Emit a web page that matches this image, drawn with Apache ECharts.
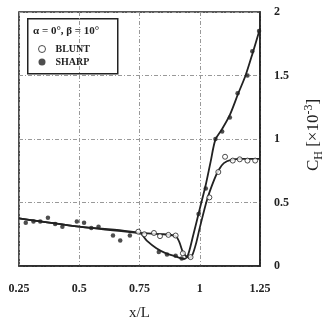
<!DOCTYPE html>
<html>
<head>
<meta charset="utf-8">
<script src="https://cdn.jsdelivr.net/npm/echarts@6/dist/echarts.min.js"></script>
<style>
html,body{margin:0;padding:0;background:#fff;}
#c{width:333px;height:326px;}
</style>
</head>
<body>
<div id="c"></div>
<script>
// x/L positions and C_H values (×10^-3)
var bluntPoints = [[0.745,0.27],[0.77,0.25],[0.81,0.26],[0.835,0.235],[0.87,0.245],[0.90,0.24],[0.93,0.10],[0.962,0.07],[1.04,0.54],[1.077,0.74],[1.105,0.86],[1.137,0.83],[1.166,0.84],[1.198,0.83],[1.23,0.83]];
var sharpPoints = [[0.278,0.34],[0.31,0.35],[0.338,0.35],[0.37,0.38],[0.40,0.33],[0.43,0.31],[0.49,0.35],[0.52,0.34],[0.55,0.30],[0.58,0.31],[0.64,0.24],[0.67,0.20],[0.71,0.24],[0.83,0.11],[0.864,0.09],[0.90,0.08],[0.925,0.06],[0.995,0.41],[1.025,0.61],[1.065,1.0],[1.093,1.06],[1.125,1.17],[1.157,1.36],[1.198,1.50],[1.218,1.69],[1.246,1.85]];
var bluntCurve = [[0.25,0.375],[0.5,0.31],[0.75,0.26],[0.8,0.255],[0.85,0.25],[0.9,0.235],[0.915,0.19],[0.93,0.11],[0.945,0.075],[0.958,0.065],[0.97,0.09],[0.985,0.18],[1.0,0.3],[1.03,0.52],[1.06,0.68],[1.08,0.76],[1.1,0.81],[1.13,0.835],[1.17,0.843],[1.25,0.843]];
var sharpCurve = [[0.25,0.375],[0.5,0.31],[0.75,0.26],[0.78,0.2],[0.82,0.14],[0.86,0.1],[0.9,0.075],[0.935,0.055],[0.95,0.08],[0.97,0.22],[1.0,0.45],[1.025,0.64],[1.045,0.82],[1.065,0.995],[1.09,1.07],[1.125,1.19],[1.16,1.36],[1.19,1.5],[1.22,1.68],[1.25,1.87]];
var xTicks = {min:0.25, max:1.25, step:0.25};
var yTicks = {min:0, max:2, step:0.5};
var legendTitle = 'α = 0°, β = 10°';
var seriesNames = ['BLUNT','SHARP'];

var serif = '"Liberation Serif","DejaVu Serif",serif';
var chart = echarts.init(document.getElementById('c'));
chart.setOption({
  animation:false,
  backgroundColor:'#fff',
  grid:{left:19,right:65,top:12,bottom:47,show:true,borderColor:'#222',borderWidth:1.6,backgroundColor:'transparent'},
  xAxis:{type:'value',min:xTicks.min,max:xTicks.max,interval:xTicks.step,
    axisLine:{lineStyle:{color:'#222',width:1.6}},axisTick:{show:false},
    axisLabel:{color:'#222',fontFamily:serif,fontSize:12,fontWeight:'bold',margin:17},
    splitLine:{show:true,lineStyle:{color:'#999',type:[4,2,1,2],width:1}},
    name:'x/L',nameLocation:'middle',nameGap:40,
    nameTextStyle:{color:'#222',fontFamily:serif,fontSize:15}},
  yAxis:{type:'value',position:'right',min:yTicks.min,max:yTicks.max,interval:yTicks.step,
    axisLine:{show:true,lineStyle:{color:'#222',width:1.6}},axisTick:{show:false},
    axisLabel:{color:'#222',fontFamily:serif,fontSize:12,fontWeight:'bold',margin:14,padding:[5,0,0,0]},
    splitLine:{show:true,lineStyle:{color:'#999',type:[4,2,1,2],width:1}},
    name:'{c|C}{s|H}{c| [×10}{p|-3}{c|]}',nameLocation:'middle',nameRotate:90,nameGap:43,
    nameTextStyle:{color:'#222',fontFamily:serif,padding:[0,0,0,8],
      rich:{c:{fontSize:17,fontFamily:serif,color:'#222',lineHeight:22,verticalAlign:'middle'},
            s:{fontSize:12,fontFamily:serif,color:'#222',lineHeight:22,verticalAlign:'bottom',padding:[6,0,0,0]},
            p:{fontSize:12,fontFamily:serif,color:'#222',lineHeight:22,verticalAlign:'top',padding:[0,0,8,0]}}}},
  legend:{orient:'vertical',left:33,top:39,itemGap:3,itemWidth:7,itemHeight:7,
    data:[{name:seriesNames[0],icon:'circle',itemStyle:{color:'#fff',borderColor:'#222',borderWidth:1}},{name:seriesNames[1],icon:'circle'}],
    textStyle:{fontFamily:serif,fontSize:10,fontWeight:'bold',color:'#222',padding:[0,0,0,5]}},
  graphic:[
    {type:'rect',left:27,top:18,shape:{width:90,height:55},style:{fill:'#fff',stroke:'#222',lineWidth:1.5},z:-1},
    {type:'text',left:33,top:26,style:{text:legendTitle,font:'bold 11px '+serif,fill:'#222'}}
  ],
  series:[
    {name:'bluntCurve',type:'line',data:bluntCurve,smooth:0.3,showSymbol:false,lineStyle:{color:'#222',width:1.8},z:2},
    {name:'sharpCurve',type:'line',data:sharpCurve,smooth:0.3,showSymbol:false,lineStyle:{color:'#222',width:1.8},z:2},
    {name:seriesNames[0],type:'scatter',data:bluntPoints,symbol:'circle',symbolSize:5,itemStyle:{color:'#fff',borderColor:'#222',borderWidth:1},z:4},
    {name:seriesNames[1],type:'scatter',data:sharpPoints,symbol:'circle',symbolSize:4.5,itemStyle:{color:'#222'},z:4}
  ]
});
</script>
</body>
</html>
